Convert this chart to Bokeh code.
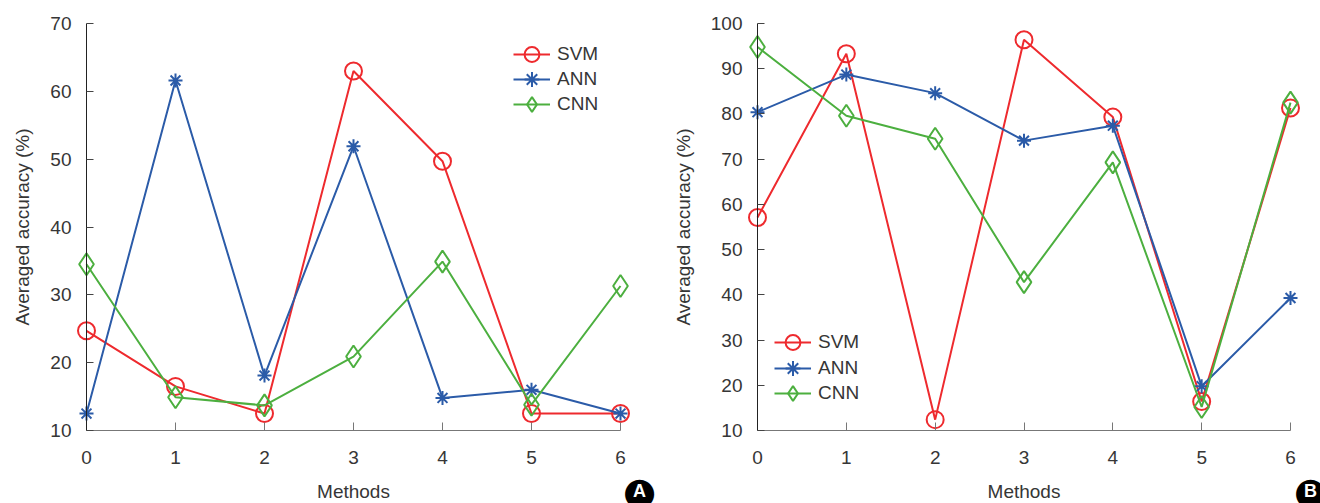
from bokeh.plotting import figure
from bokeh.models import Range1d, FixedTicker, Legend, Label, LinearAxis
from bokeh.layouts import row
from bokeh.embed import file_html
from bokeh.resources import INLINE

methods = [0, 1, 2, 3, 4, 5, 6]

# Panel A
a_svm = [24.7, 16.5, 12.5, 63.0, 49.7, 12.5, 12.5]
a_ann = [12.5, 61.6, 18.1, 51.9, 14.8, 16.0, 12.5]
a_cnn = [34.5, 14.9, 13.7, 20.9, 34.9, 13.8, 31.3]
a_yticks = [10, 20, 30, 40, 50, 60, 70]

# Panel B
b_svm = [57.1, 93.3, 12.4, 96.4, 79.3, 16.4, 81.3]
b_ann = [80.4, 88.7, 84.6, 74.1, 77.4, 19.8, 39.3]
b_cnn = [94.8, 79.6, 74.5, 42.8, 69.3, 15.2, 82.5]
b_yticks = [10, 20, 30, 40, 50, 60, 70, 80, 90, 100]

series_names = ["SVM", "ANN", "CNN"]
colors = ["#ee2a2e", "#2b5ba8", "#4caf3f"]

FONT = "Liberation Sans"
TXT = "#363636"

W, H = 660, 503          # canvas of each panel
TOP, BOTTOM = 23, 430    # pixel rows of the y-axis ends


def make_panel(svm, ann, cnn, yticks, x0_px, x6_px, legend_x, legend_ys, badge, badge_xy):
    # pixel geometry -> data ranges so the axes sit where the reference puts them
    xs = (x6_px - x0_px) / 6.0
    ys = (BOTTOM - TOP) / float(yticks[-1] - yticks[0])
    xr = Range1d(-x0_px / xs, 6 + (W - x6_px) / xs)
    yr = Range1d(yticks[0] - (H - BOTTOM) / ys, yticks[-1] + TOP / ys)

    p = figure(width=W, height=H, output_backend="svg", toolbar_location=None,
               x_range=xr, y_range=yr, x_axis_location=None, y_axis_location=None,
               min_border=0)
    p.outline_line_color = None
    p.xgrid.visible = False
    p.ygrid.visible = False
    p.background_fill_color = "white"
    p.border_fill_color = "white"

    data = [svm, ann, cnn]
    markers = ["circle", "asterisk", "diamond"]
    sizes = [17, 14, 22]
    for name, vals, col, mk, sz, ly in zip(series_names, data, colors, markers, sizes, legend_ys):
        l = p.line(methods, vals, line_color=col, line_width=2)
        s = p.scatter(methods, vals, marker=mk, size=sz, line_color=col, line_width=2,
                      fill_color=None)
        legend = Legend(items=[(name, [l, s])], location=(legend_x, ly))
        legend.glyph_width = 37
        legend.glyph_height = 42
        legend.label_height = 20
        legend.label_standoff = 7
        legend.spacing = 0
        legend.padding = 0
        legend.margin = 0
        legend.border_line_color = None
        legend.background_fill_alpha = 0
        legend.label_text_font = FONT
        legend.label_text_font_size = "19px"
        legend.label_text_color = TXT
        p.add_layout(legend, "center")

    xa = LinearAxis(ticker=FixedTicker(ticks=methods), fixed_location=yticks[0], bounds=(0, 6),
                    axis_label="Methods", axis_line_color="#777777",
                    major_tick_line_color="#777777", major_tick_in=8, major_tick_out=0,
                    minor_tick_line_color=None, major_label_standoff=20,
                    axis_label_standoff=14)
    ya = LinearAxis(ticker=FixedTicker(ticks=yticks), fixed_location=0,
                    bounds=(yticks[0], yticks[-1]),
                    axis_label="Averaged accuracy (%)", axis_line_color="#222222",
                    major_tick_line_color="#444444", major_tick_in=7, major_tick_out=0,
                    minor_tick_line_color=None, major_label_standoff=15,
                    axis_label_standoff=14)
    for ax in (xa, ya):
        ax.major_label_text_font = FONT
        ax.major_label_text_font_size = "19px"
        ax.major_label_text_color = TXT
        ax.axis_label_text_font = FONT
        ax.axis_label_text_font_size = "19px"
        ax.axis_label_text_color = TXT
        ax.axis_label_text_font_style = "normal"
    p.add_layout(xa, "below")
    p.add_layout(ya, "left")

    bx, by = badge_xy
    p.add_layout(Label(x=bx, y=by, x_units="screen", y_units="screen", text="\u25cf",
                       text_font="DejaVu Sans", text_font_size="38px", text_color="black",
                       text_align="center", text_baseline="middle"))
    p.add_layout(Label(x=bx, y=by, x_units="screen", y_units="screen", text=badge,
                       text_font=FONT, text_font_size="18px", text_font_style="bold",
                       text_color="white", text_align="center", text_baseline="middle"))
    return p


p1 = make_panel(a_svm, a_ann, a_cnn, a_yticks, 86, 620, 513, [428, 403, 378], "A", (639, 13))
p2 = make_panel(b_svm, b_ann, b_cnn, b_yticks, 97, 630, 114, [140, 114, 89], "B", (650, 13))

layout = row(p1, p2)
open("out.html", "w").write(file_html(layout, INLINE))
